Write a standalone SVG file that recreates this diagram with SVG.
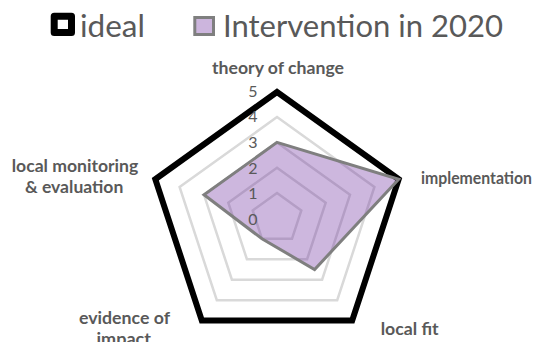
<svg xmlns="http://www.w3.org/2000/svg" width="547" height="342" viewBox="0 0 547 342">
<style>
  .lbl { font-family: Lato, "Open Sans", "Liberation Sans", sans-serif; font-weight: bold; font-size: 17.5px; fill: #595959; }
  .tick { font-family: Lato, "Open Sans", "Liberation Sans", sans-serif; font-size: 16px; fill: #595959; text-anchor: end; }
  .leg { font-family: Lato, "Open Sans", "Liberation Sans", sans-serif; font-size: 30px; fill: #595959; }
  .grid { fill: none; stroke: #d9d9d9; stroke-width: 2.5; stroke-linejoin: miter; }
  .ideal { fill: none; stroke: #000000; stroke-width: 6; stroke-linejoin: miter; }
  .s2020 { fill: #7030a0; fill-opacity: 0.35; stroke: #7f7f7f; stroke-width: 3; stroke-linejoin: miter; }
</style>
<rect width="547" height="342" fill="#ffffff"/>
<g id="legend">
  <g id="legend-ideal">
    <rect x="54.2" y="16.2" width="17.3" height="16.3" fill="#ffffff" stroke="#000000" stroke-width="7" stroke-linejoin="round"/>
    <text class="leg" x="80" y="36.5" textLength="65" lengthAdjust="spacingAndGlyphs">ideal</text>
  </g>
  <g id="legend-2020">
    <rect x="194.8" y="17.5" width="18.7" height="17" fill="#ccb5dd" stroke="#7f7f7f" stroke-width="3"/>
    <text class="leg" x="223" y="36.5" textLength="280" lengthAdjust="spacingAndGlyphs">Intervention in 2020</text>
  </g>
</g>
<g id="connectors">
  <g id="grid">
    <polygon class="grid" points="277,117.1 374.4,187.0 337.2,300.2 216.8,300.2 179.6,187.0"/>
    <polygon class="grid" points="277,142.4 350.0,194.8 322.1,279.7 231.9,279.7 204.0,194.8"/>
    <polygon class="grid" points="277,167.7 325.7,202.7 307.1,259.2 246.9,259.2 228.3,202.7"/>
    <polygon class="grid" points="277,193.0 301.3,210.5 292.0,238.8 262.0,238.8 252.7,210.5"/>
  </g>
  <g id="series-ideal">
    <polygon class="ideal" points="277,92.0 398.7,179.2 352.2,320.4 201.8,320.4 155.3,179.2"/>
  </g>
  <g id="series-2020">
    <polygon class="s2020" points="277,142.4 398.7,179.2 314.6,269.5 262.0,238.8 204.0,194.8"/>
  </g>
</g>
<g id="ticks">
  <text class="tick" x="257.5" y="96.9">5</text>
  <text class="tick" x="257.5" y="122.4">4</text>
  <text class="tick" x="257.5" y="148.0">3</text>
  <text class="tick" x="257.5" y="173.5">2</text>
  <text class="tick" x="257.5" y="199.1">1</text>
  <text class="tick" x="257.5" y="224.7">0</text>
</g>
<g id="node-theory">
  <text class="lbl" x="212" y="73.5" textLength="132" lengthAdjust="spacingAndGlyphs">theory of change</text>
</g>
<g id="node-implementation">
  <text class="lbl" x="421" y="183.5" textLength="111" lengthAdjust="spacingAndGlyphs">implementation</text>
</g>
<g id="node-localfit">
  <text class="lbl" x="380.7" y="335" textLength="58" lengthAdjust="spacingAndGlyphs">local fit</text>
</g>
<g id="node-evidence">
  <text class="lbl" x="79" y="323.5" textLength="91" lengthAdjust="spacingAndGlyphs">evidence of</text>
  <text class="lbl" x="96.5" y="345.1" textLength="54.5" lengthAdjust="spacingAndGlyphs">impact</text>
</g>
<g id="node-monitoring">
  <text class="lbl" x="11.7" y="171.7" textLength="126.6" lengthAdjust="spacingAndGlyphs">local monitoring</text>
  <text class="lbl" x="25" y="193.3" textLength="98.3" lengthAdjust="spacingAndGlyphs">&amp; evaluation</text>
</g>
</svg>
